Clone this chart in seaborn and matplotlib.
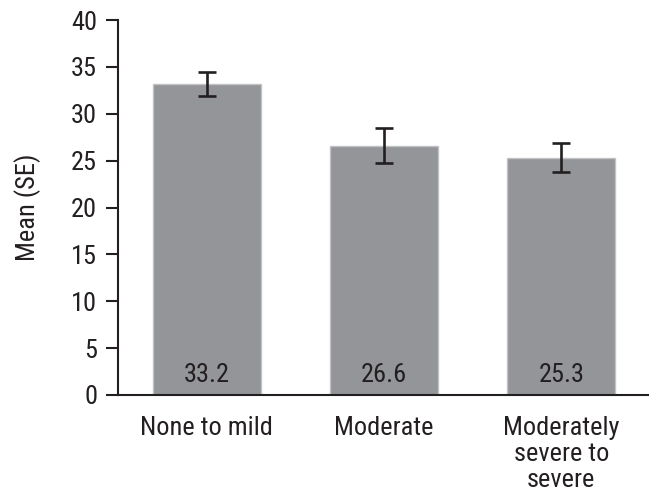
import matplotlib
matplotlib.use("Agg")
import matplotlib.pyplot as plt
import seaborn as sns
import pandas as pd
from matplotlib import font_manager

categories = ["None to mild", "Moderate", "Moderately\nsevere to\nsevere"]
means = [33.2, 26.6, 25.3]
se = [1.3, 1.85, 1.55]
value_labels = ["33.2", "26.6", "25.3"]
y_ticks = [0, 5, 10, 15, 20, 25, 30, 35, 40]

sns.set_theme(style="white")
names = {f.name for f in font_manager.fontManager.ttflist}
fam = [n for n in ["Liberation Sans Narrow", "Roboto Condensed", "Liberation Sans"] if n in names] + ["DejaVu Sans"]
plt.rcParams["font.family"] = fam

ink = "#231f20"
bar_color = "#939598"

fig = plt.figure(figsize=(6.49, 4.92), dpi=100)
ax = fig.add_axes([118/649, 1 - 395/492, (650 - 118)/649, (395 - 20)/492])

df = pd.DataFrame({"cat": categories, "mean": means})
sns.barplot(data=df, x="cat", y="mean", color=bar_color, saturation=1,
            width=0.61, edgecolor="#c0c2c4", linewidth=1, errorbar=None, ax=ax)
xs = list(range(len(categories)))
ax.errorbar(xs, means, yerr=se, fmt="none", ecolor=ink, elinewidth=1.9,
            capsize=6.5, capthick=1.9, zorder=5)

for x, lab in zip(xs, value_labels):
    ax.text(x, 2.1, lab, ha="center", va="center", fontsize=19, color=ink)

ax.set_xlim(-0.5, 2.5)
ax.set_ylim(0, 40)
ax.set_yticks(y_ticks)
ax.set_yticklabels([str(t) for t in y_ticks])
ax.set_xticks(xs)
ax.set_xticklabels(categories, linespacing=1.1)
ax.set_xticks([-0.5, 0.5, 1.5, 2.5], minor=True)
ax.tick_params(axis="x", which="major", length=0, pad=15, labelsize=19, colors=ink)
ax.tick_params(axis="x", which="minor", length=13, width=1.5, color=ink, direction="out")
ax.tick_params(axis="y", which="major", length=9, width=1.5, color=ink, direction="out",
               pad=6, labelsize=19, labelcolor=ink, left=True)
ax.set_xlabel("")
ax.set_ylabel("Mean (SE)", fontsize=19, color=ink, labelpad=22)

for s in ["top", "right"]:
    ax.spines[s].set_visible(False)
for s in ["left", "bottom"]:
    ax.spines[s].set_color(ink)
    ax.spines[s].set_linewidth(1.5)

fig.savefig("out.png", dpi=100)
